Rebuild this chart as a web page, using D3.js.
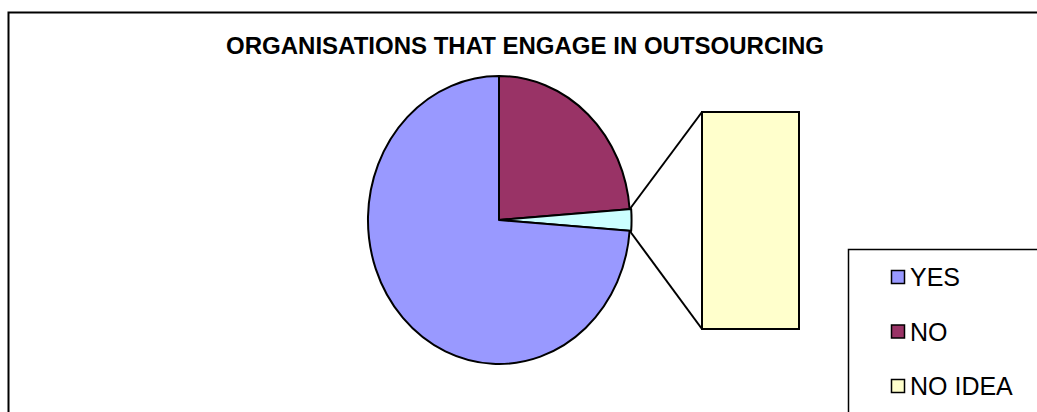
<!DOCTYPE html>
<html>
<head>
<meta charset="utf-8">
<script src="https://cdn.jsdelivr.net/npm/d3@7/dist/d3.min.js"></script>
<style>
  html, body { margin: 0; padding: 0; background: #fff; }
  svg { display: block; font-family: "Liberation Sans", Arial, sans-serif; }
</style>
</head>
<body>
<svg id="chart" width="1037" height="412"></svg>
<script>
// Survey responses
const categories = ["YES", "NO", "NO IDEA"];
const responses = [31, 10, 1];
const colors = ["#9999FF", "#993366", "#FFFFCC"];
const otherColor = "#CCFFFF";
const titleText = "ORGANISATIONS THAT ENGAGE IN OUTSOURCING";

// NO IDEA is split out of the pie into the secondary bar
const splitCount = 1;

const svg = d3.select("#chart");

// Outer frame (runs off the right and bottom of the page)
svg.append("rect")
  .attr("x", 8.5).attr("y", 12.5)
  .attr("width", 1100).attr("height", 500)
  .attr("fill", "#fff").attr("stroke", "#000").attr("stroke-width", 2);

svg.append("text")
  .attr("x", 525).attr("y", 54)
  .attr("text-anchor", "middle")
  .attr("font-weight", "bold")
  .attr("font-size", 24)
  .text(titleText);

// Primary pie: main categories plus one combined "other" slice
const mainN = categories.length - splitCount;
const otherTotal = d3.sum(responses.slice(mainN));
const pieData = [
  { key: "NO", value: responses[1], color: colors[1] },
  { key: "other", value: otherTotal, color: otherColor },
  { key: "YES", value: responses[0], color: colors[0] }
];

const cx = 499, cy = 220, rx = 131, ry = 144;
const pie = d3.pie().sort(null).value(d => d.value);
const arcs = pie(pieData);
const arc = d3.arc().innerRadius(0).outerRadius(1);
const otherArc = d3.arc().innerRadius(0).outerRadius(1.012);

const pieG = svg.append("g")
  .attr("transform", `translate(${cx},${cy}) scale(${rx},${ry})`);

pieG.selectAll("path")
  .data(arcs)
  .join("path")
  .attr("d", d => d.data.key === "other" ? otherArc(d) : arc(d))
  .attr("fill", d => d.data.color)
  .attr("stroke", "#000")
  .attr("stroke-width", 2)
  .attr("stroke-linejoin", "round")
  .attr("vector-effect", "non-scaling-stroke");

// Secondary bar for the split-out category
const barX = 702, barW = 97;
const barY = d3.scaleLinear().domain([0, otherTotal]).range([329, 112]);

let acc = 0;
const barData = responses.slice(mainN).map((v, i) => {
  const d = { key: categories[mainN + i], y0: acc, y1: acc + v, color: colors[mainN + i] };
  acc += v;
  return d;
});

// Connector lines from the "other" slice to the bar
const other = arcs.find(a => a.data.key === "other");
const edge = a => [cx + rx * Math.sin(a), cy - ry * Math.cos(a)];
const pTop = edge(other.startAngle);
const pBot = edge(other.endAngle);

svg.append("line")
  .attr("x1", pTop[0]).attr("y1", pTop[1])
  .attr("x2", barX).attr("y2", barY(otherTotal))
  .attr("stroke", "#000").attr("stroke-width", 2);
svg.append("line")
  .attr("x1", pBot[0]).attr("y1", pBot[1])
  .attr("x2", barX).attr("y2", barY(0))
  .attr("stroke", "#000").attr("stroke-width", 2);

svg.selectAll("rect.bar")
  .data(barData)
  .join("rect")
  .attr("class", "bar")
  .attr("x", barX).attr("width", barW)
  .attr("y", d => barY(d.y1))
  .attr("height", d => barY(d.y0) - barY(d.y1))
  .attr("fill", d => d.color)
  .attr("stroke", "#000").attr("stroke-width", 2);

// Legend
svg.append("rect")
  .attr("x", 848.5).attr("y", 249.5)
  .attr("width", 300).attr("height", 300)
  .attr("fill", "#fff").attr("stroke", "#000").attr("stroke-width", 1.5);

const legendY = d3.scalePoint().domain(categories).range([277, 386]);
const lg = svg.selectAll("g.legend")
  .data(categories)
  .join("g")
  .attr("class", "legend")
  .attr("transform", d => `translate(0,${legendY(d)})`);

lg.append("rect")
  .attr("x", 891.5).attr("y", -6.5)
  .attr("width", 13).attr("height", 13)
  .attr("fill", (d, i) => colors[i])
  .attr("stroke", "#000").attr("stroke-width", 1.5);

lg.append("text")
  .attr("x", 910).attr("y", 9)
  .attr("font-size", 25)
  .text(d => d);
</script>
</body>
</html>
